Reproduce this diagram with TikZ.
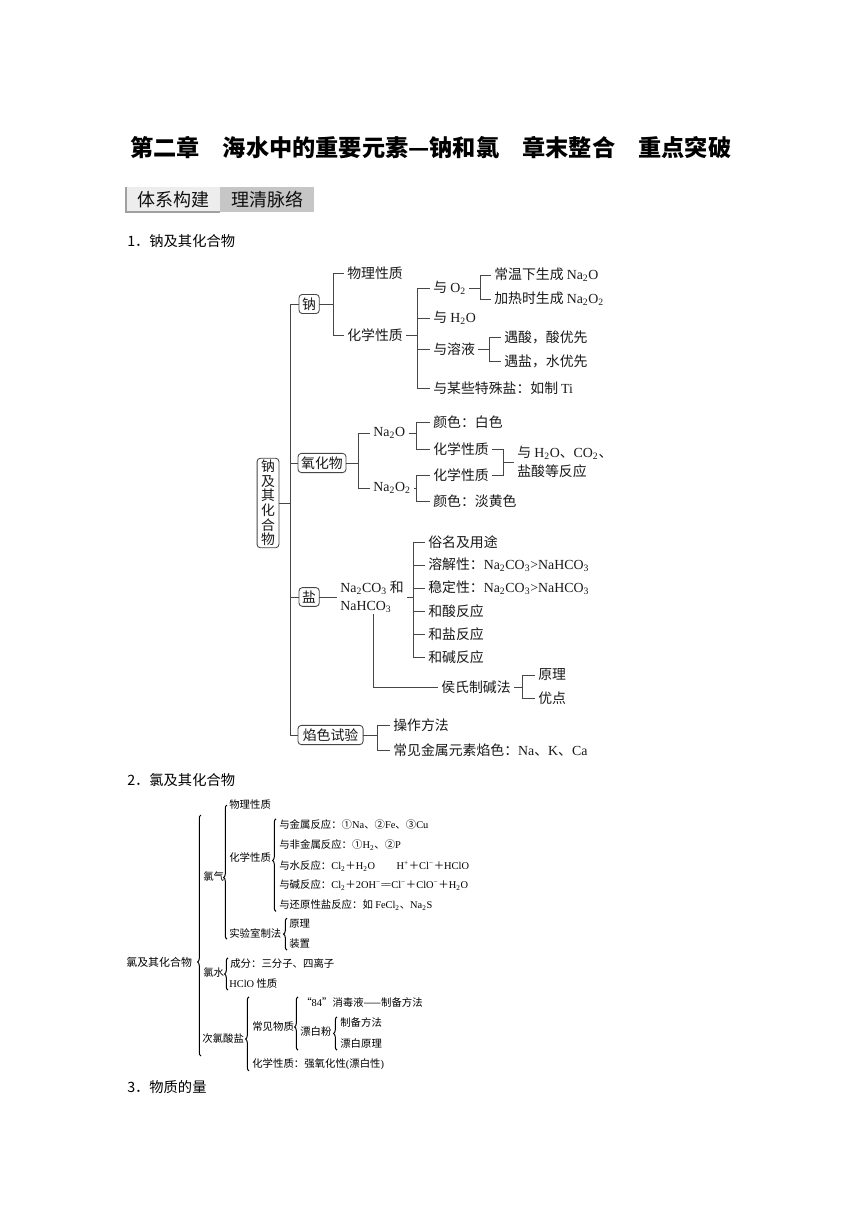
\documentclass[tikz,border=0pt]{standalone}
\usepackage{fontspec}
\setmainfont{Noto Sans CJK SC}
\newfontfamily\lat{Liberation Serif}
\usetikzlibrary{decorations.pathreplacing}
\newcommand{\fm}[1]{{\lat #1}}
\newcommand{\xb}[1]{\textsubscript{#1}}
\newcommand{\shb}[1]{\textsuperscript{#1}}

\begin{document}
\begin{tikzpicture}[x=.75pt,y=-.75pt,
  link/.style={draw={rgb,255:red,70;green,70;blue,70},line width=0.65pt},
  tx/.style={inner ysep=1pt,inner xsep=2.6pt,xshift=-1.6pt,outer sep=0pt,anchor=west,text={rgb,255:red,25;green,25;blue,25},font=\fontsize{10.4}{12}\selectfont},
  bx/.style={inner sep=2.4pt,outer sep=0pt,anchor=west,text={rgb,255:red,25;green,25;blue,25},font=\fontsize{10.4}{12}\selectfont,draw={rgb,255:red,70;green,70;blue,70},line width=0.65pt,rounded corners=2.5pt},
  ts/.style={inner sep=1pt,outer sep=0pt,anchor=west,text=black,font=\fontsize{7.8}{9}\selectfont},
  brc/.style={draw=black,line width=0.75pt,decorate,decoration={brace,amplitude=2.6pt}},
  bn/.style={inner sep=0pt,outer sep=0pt,anchor=north west,minimum width=70.5pt,minimum height=18.75pt,font=\fontsize{13.5}{15}\selectfont,text={rgb,255:red,15;green,15;blue,15}}]
\path[use as bounding box] (0,0) rectangle (860,1216);
\path[fill=white,draw=none] (0,0) rectangle (860,1216);
% title and banner
\node[inner sep=0pt,outer sep=0pt,anchor=west,font=\bfseries\fontsize{17.4}{20}\selectfont] (title) at (130,148) {第二章　海水中的重要元素—钠和氯　章末整合　重点突破};
\node[bn,fill={rgb,255:red,237;green,237;blue,237}] (bn1) at (126,187) {体系构建};
\node[bn,fill={rgb,255:red,198;green,198;blue,198}] (bn2) at (bn1.north east) {理清脉络};
\draw[draw={rgb,255:red,160;green,160;blue,160},line width=1pt] (bn1.north west) -- (bn1.south west) -- (bn1.south east);
\node[inner sep=0pt,anchor=west,font=\fontsize{10.7}{12}\selectfont] (h1) at (127,241) {1．钠及其化合物};
\node[inner sep=0pt,anchor=west,font=\fontsize{10.7}{12}\selectfont] (h2) at (127,780) {2．氯及其化合物};
\node[inner sep=0pt,anchor=west,font=\fontsize{10.7}{12}\selectfont] (h3) at (127,1087) {3．物质的量};

% tree 1: sodium
\node[bx,anchor=center,align=center,font=\fontsize{10.4}{11}\selectfont,inner xsep=3pt,inner ysep=1.3pt] (njq) at (268,503) {钠\\及\\其\\化\\合\\物};
\node[bx] (na) at (299,304) {钠};
\node[bx] (yhw) at (298,463) {氧化物};
\node[bx] (yan) at (299,597) {盐};
\node[bx,inner xsep=3.6pt] (ysy) at (298,735) {焰色试验};
\draw[link] (njq.east) -- ++(11.5,0) |- (na.west);
\draw[link] (njq.east) -- ++(11.5,0) |- (yhw.west);
\draw[link] (njq.east) -- ++(11.5,0) |- (yan.west);
\draw[link] (njq.east) -- ++(11.5,0) |- (ysy.west);

\node[tx] (wl1) at (346,273) {物理性质};
\node[tx] (hx0) at (346,335) {化学性质};
\draw[link] (na.east) -- (333,0 |- na.east) |- (wl1.west);
\draw[link] (na.east) -- (333,0 |- na.east) |- (hx0.west);

\node[tx] (yo2) at (432,288) {与 \fm{O\xb{2}}};
\node[tx] (yh2o) at (432,318) {与 \fm{H\xb{2}O}};
\node[tx] (yrr) at (432,349) {与溶液};
\node[tx] (yts) at (432,388) {与某些特殊盐：如制 \fm{Ti}};
\draw[link] (hx0.east) -- (417,0 |- hx0.east) |- (yo2.west);
\draw[link] (hx0.east) -- (417,0 |- hx0.east) |- (yh2o.west);
\draw[link] (hx0.east) -- (417,0 |- hx0.east) |- (yrr.west);
\draw[link] (hx0.east) -- (417,0 |- hx0.east) |- (yts.west);

\node[tx] (cw) at (493,275) {常温下生成 \fm{Na\xb{2}O}};
\node[tx] (jr) at (493,299) {加热时生成 \fm{Na\xb{2}O\xb{2}}};
\draw[link] (yo2.east) -- (480,0 |- yo2.east) |- (cw.west);
\draw[link] (yo2.east) -- (480,0 |- yo2.east) |- (jr.west);
\node[tx] (ys) at (503,337) {遇酸，酸优先};
\node[tx] (yy) at (503,361) {遇盐，水优先};
\draw[link] (yrr.east) -- (489,0 |- yrr.east) |- (ys.west);
\draw[link] (yrr.east) -- (489,0 |- yrr.east) |- (yy.west);

\node[tx] (na2o) at (372,433) {\fm{Na\xb{2}O}};
\node[tx] (na2o2) at (372,488) {\fm{Na\xb{2}O\xb{2}}};
\draw[link] (yhw.east) -- (358,0 |- yhw.east) |- (na2o.west);
\draw[link] (yhw.east) -- (358,0 |- yhw.east) |- (na2o2.west);
\node[tx] (bs) at (432,422) {颜色：白色};
\node[tx] (hx1) at (432,449) {化学性质};
\node[tx] (hx2) at (432,475) {化学性质};
\node[tx] (dh) at (432,501) {颜色：淡黄色};
\draw[link] (na2o.east) -- (416,0 |- na2o.east) |- (bs.west);
\draw[link] (na2o.east) -- (416,0 |- na2o.east) |- (hx1.west);
\draw[link] (na2o2.east) -- (416,0 |- na2o2.east) |- (hx2.west);
\draw[link] (na2o2.east) -- (416,0 |- na2o2.east) |- (dh.west);
\node[tx,align=left,font=\fontsize{10.4}{14.2}\selectfont] (fy) at (516,462) {与 \fm{H\xb{2}O}、\fm{CO\xb{2}}、\\盐酸等反应};
\draw[link] (hx1.east) -- (503,0 |- hx1.east) |- (fy.west);
\draw[link] (hx2.east) -- (503,0 |- hx2.east) |- (fy.west);

\node[tx,align=left,font=\fontsize{10.4}{13.5}\selectfont] (tan) at (339,597) {\fm{Na\xb{2}CO\xb{3}} 和\\\fm{NaHCO\xb{3}}};
\draw[link] (yan.east) -- (tan.west);
\node[tx] (sm) at (427,542) {俗名及用途};
\node[tx] (rj) at (427,565) {溶解性：\fm{Na\xb{2}CO\xb{3}>NaHCO\xb{3}}};
\node[tx] (wd) at (427,588) {稳定性：\fm{Na\xb{2}CO\xb{3}>NaHCO\xb{3}}};
\node[tx] (hs) at (427,611) {和酸反应};
\node[tx] (hy) at (427,634) {和盐反应};
\node[tx] (hj) at (427,657) {和碱反应};
\draw[link] (tan.east) -- (413,0 |- tan.east) |- (sm.west);
\draw[link] (tan.east) -- (413,0 |- tan.east) |- (rj.west);
\draw[link] (tan.east) -- (413,0 |- tan.east) |- (wd.west);
\draw[link] (tan.east) -- (413,0 |- tan.east) |- (hs.west);
\draw[link] (tan.east) -- (413,0 |- tan.east) |- (hy.west);
\draw[link] (tan.east) -- (413,0 |- tan.east) |- (hj.west);
\node[tx] (hszj) at (440,687) {侯氏制碱法};
\draw[link] (373,0 |- tan.south) |- (hszj.west);
\node[tx] (yl) at (537,675) {原理};
\node[tx] (yd) at (537,698) {优点};
\draw[link] (hszj.east) -- (522,0 |- hszj.east) |- (yl.west);
\draw[link] (hszj.east) -- (522,0 |- hszj.east) |- (yd.west);

\node[tx] (cz) at (392,725) {操作方法};
\node[tx] (cj) at (392,750) {常见金属元素焰色：\fm{Na}、\fm{K}、\fm{Ca}};
\draw[link] (ysy.east) -- (377,0 |- ysy.east) |- (cz.west);
\draw[link] (ysy.east) -- (377,0 |- ysy.east) |- (cj.west);

% tree 2: chlorine
\node[ts,font=\fontsize{8.2}{9}\selectfont] (lq0) at (125,962) {氯及其化合物};
\node[ts] (lq) at (202,877) {氯气};
\node[ts] (ls) at (202,973) {氯水};
\node[ts] (clsy) at (201,1039) {次氯酸盐};
\draw[brc,decoration={aspect=0.39}] (201,1056) -- (201,815);

\node[ts] (wl2) at (228,805) {物理性质};
\node[ts] (hx3) at (228,857) {化学性质};
\node[ts] (sys) at (228,933) {实验室制法};
\draw[brc,decoration={aspect=0.46}] (227,0 |- sys.south) -- (227,0 |- wl2.east);

\node[ts] (js) at (278,825) {与金属反应：①\fm{Na}、②\fm{Fe}、③\fm{Cu}};
\node[ts] (fjs) at (278,845) {与非金属反应：①\fm{H\xb{2}}、②\fm{P}};
\node[ts] (ss) at (278,866) {与水反应：\fm{Cl\xb{2}}＋\fm{H\xb{2}O}\hspace{16pt}\fm{H\shb{+}}＋\fm{Cl\shb{−}}＋\fm{HClO}};
\node[ts] (jf) at (278,885) {与碱反应：\fm{Cl\xb{2}}＋\fm{2OH\shb{−}=\kern-.12em=Cl\shb{−}}＋\fm{ClO\shb{−}}＋\fm{H\xb{2}O}};
\node[ts] (hy2) at (278,905) {与还原性盐反应：如 \fm{FeCl\xb{2}}、\fm{Na\xb{2}S}};
\draw[brc,decoration={aspect=0.55}] (276,0 |- hy2.south) -- (276,0 |- js.north);

\node[ts] (yl2) at (288,924) {原理};
\node[ts] (zz) at (288,944) {装置};
\draw[brc,decoration={aspect=0.5}] (287,0 |- zz.south) -- (287,0 |- yl2.north);

\node[ts] (cf) at (229,964) {成分：三分子、四离子};
\node[ts] (hclo) at (228,984) {\fm{HClO} 性质};
\draw[brc,decoration={aspect=0.5}] (228,0 |- hclo.south) -- (228,0 |- cf.north);

\node[ts] (cjwz) at (251,1027) {常见物质};
\node[ts] (hxz) at (251,1064) {化学性质：强氧化性\fm{(}漂白性\fm{)}};
\node[ts] (x84) at (300,1003) {“\fm{84}”消毒液——制备方法};
\node[ts] (pbf) at (299,1032) {漂白粉};
\node[ts] (zbff) at (339,1023) {制备方法};
\node[ts] (pbyl) at (339,1044) {漂白原理};
\draw[brc,decoration={aspect=0.43}] (249,0 |- hxz.south) -- (249,0 |- x84.north);
\draw[brc,decoration={aspect=0.435}] (298,0 |- pbyl.south) -- (298,0 |- x84.north);
\draw[brc,decoration={aspect=0.5}] (337,0 |- pbyl.south) -- (337,0 |- zbff.north);
\end{tikzpicture}
\end{document}
